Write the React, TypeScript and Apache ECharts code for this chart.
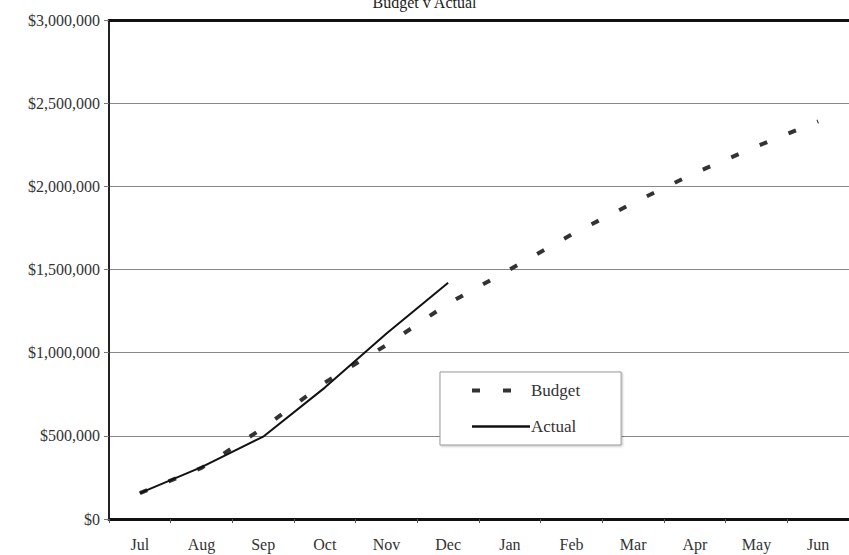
import React, { useEffect, useRef } from "react";
import * as echarts from "echarts";

const months = ["Jul", "Aug", "Sep", "Oct", "Nov", "Dec", "Jan", "Feb", "Mar", "Apr", "May", "Jun"];
const budget = [156000, 307000, 547000, 820000, 1046000, 1295000, 1500000, 1710000, 1900000, 2080000, 2240000, 2390000];
const actual = [156000, 312000, 495000, 790000, 1115000, 1420000, null, null, null, null, null, null];
const yTicks = [0, 500000, 1000000, 1500000, 2000000, 2500000, 3000000];

const FONT = "Liberation Serif";

export default function App() {
  const ref = useRef<HTMLDivElement>(null);
  useEffect(() => {
    const chart = echarts.init(ref.current!, undefined, { renderer: "svg" });
    chart.setOption({
      animation: false,
      backgroundColor: "#fff",
      title: {
        text: "Budget v Actual",
        left: "center",
        top: -11,
        textStyle: { fontFamily: FONT, fontSize: 16, fontWeight: "normal", color: "#222" },
      },
      legend: {
        orient: "vertical",
        left: 440,
        top: 372,
        padding: [10, 41, 10, 30],
        itemGap: 19,
        itemWidth: 58,
        itemHeight: 10,
        backgroundColor: "#fff",
        borderColor: "#999",
        borderWidth: 1,
        shadowColor: "rgba(0,0,0,0.25)",
        shadowBlur: 2,
        shadowOffsetX: 1,
        shadowOffsetY: 1,
        itemStyle: { opacity: 0 },
        textStyle: { fontFamily: FONT, fontSize: 17, color: "#333", padding: [0, 0, 0, -4] },
        data: [
          { name: "Budget", lineStyle: { width: 4 } },
          { name: "Actual", lineStyle: { width: 2.5 } },
        ],
      },
      grid: { left: 109, right: -5, top: 20, bottom: 36 },
      xAxis: [
        {
          type: "category",
          data: months,
          boundaryGap: true,
          axisLine: { lineStyle: { color: "#111", width: 3 } },
          axisTick: { show: true, length: 4, lineStyle: { color: "#555", width: 1 } },
          axisLabel: { margin: 17, fontFamily: FONT, fontSize: 16, color: "#333" },
        },
        {
          type: "category",
          position: "top",
          data: months,
          axisLine: { lineStyle: { color: "#111", width: 3 } },
          axisTick: { show: false },
          axisLabel: { show: false },
        },
      ],
      yAxis: {
        type: "value",
        min: 0,
        max: 3000000,
        interval: 500000,
        axisLine: { show: true, lineStyle: { color: "#222", width: 2 } },
        axisTick: { show: true, length: 5, lineStyle: { color: "#777" } },
        splitLine: { lineStyle: { color: "#888", width: 1 } },
        axisLabel: {
          margin: 9,
          fontFamily: FONT,
          fontSize: 16,
          color: "#333",
          formatter: (v: number) => (yTicks.includes(v) ? "$" + v.toLocaleString("en-US") : ""),
        },
      },
      series: [
        {
          name: "Budget",
          type: "line",
          data: budget,
          symbol: "none",
          itemStyle: { color: "#333" },
          lineStyle: { color: "#333", width: 4, type: [8, 23] },
          z: 2,
        },
        {
          name: "Actual",
          type: "line",
          data: actual,
          symbol: "none",
          itemStyle: { color: "#111" },
          lineStyle: { color: "#111", width: 2 },
          z: 3,
        },
      ],
    });
    return () => chart.dispose();
  }, []);
  return <div ref={ref} style={{ width: 849, height: 555, position: "absolute", left: 0, top: 0 }} />;
}
